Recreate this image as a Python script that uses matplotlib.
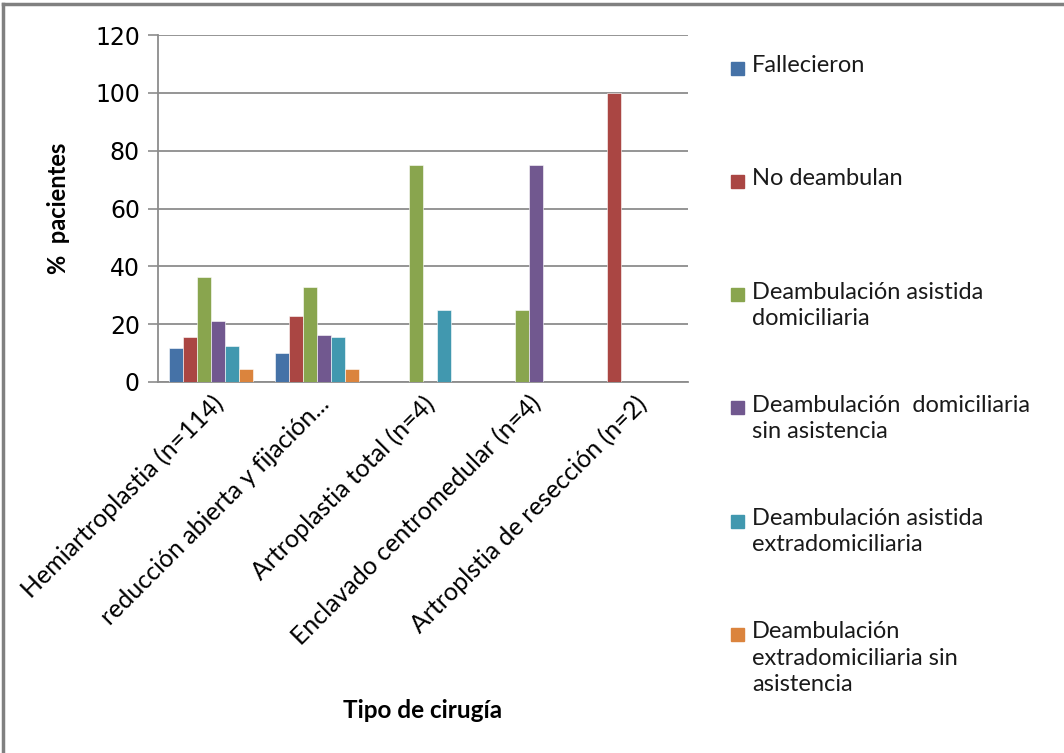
import numpy as np
import matplotlib
matplotlib.use("Agg")
import matplotlib.pyplot as plt
from matplotlib.patches import Rectangle
from matplotlib.lines import Line2D

plt.rcParams['font.family'] = ['Lato', 'DejaVu Sans']

categories = ["Hemiartroplastia (n=114)", "reducción abierta y fijación...",
              "Artroplastia total (n=4)", "Enclavado centromedular (n=4)",
              "Artroplstia de resección (n=2)"]

series_names = ["Fallecieron", "No deambulan",
                "Deambulación asistida\ndomiciliaria",
                "Deambulación  domiciliaria\nsin asistencia",
                "Deambulación asistida\nextradomiciliaria",
                "Deambulación\nextradomiciliaria sin\nasistencia"]

fallecieron = [11.7, 9.9, 0, 0, 0]
no_deambulan = [15.4, 22.9, 0, 0, 100]
asistida_dom = [36.3, 32.7, 75, 25, 0]
dom_sin_asist = [21.0, 16.2, 0, 75, 0]
asistida_extra = [12.6, 15.4, 25, 0, 0]
extra_sin_asist = [4.5, 4.5, 0, 0, 0]

values = [fallecieron, no_deambulan, asistida_dom, dom_sin_asist,
          asistida_extra, extra_sin_asist]
colors = ["#4572A7", "#AA4643", "#89A54E", "#71588F", "#4198AF", "#DB843D"]

yticks = [0, 20, 40, 60, 80, 100, 120]

fig = plt.figure(figsize=(10.64, 7.53), dpi=100)
ax = fig.add_axes([0.1485, 0.4927, 0.498, 0.4608])

x = np.arange(len(categories))
bw = 0.132
for i, (vals, col) in enumerate(zip(values, colors)):
    ax.bar(x + (i - 2.5) * bw, vals, width=bw, color=col,
           edgecolor="white", linewidth=0.4, zorder=3)

ax.set_xlim(-0.5, len(categories) - 0.5)
ax.set_ylim(0, 120)
ax.set_yticks(yticks)
ax.set_yticklabels([str(t) for t in yticks], fontsize=17,
                   family=['Liberation Sans Narrow', 'DejaVu Sans'])
ax.yaxis.grid(True, color="#8c8c8c", linewidth=1.3, zorder=0)
ax.tick_params(axis="y", length=7, width=1.2, color="#8c8c8c", pad=6)

ax.set_xticks(x)
ax.set_xticklabels(categories, rotation=45, ha="right",
                   rotation_mode="anchor", fontsize=18)
ax.tick_params(axis="x", length=0, pad=7)

for side in ["top", "right"]:
    ax.spines[side].set_visible(False)
for side in ["left", "bottom"]:
    ax.spines[side].set_color("#8c8c8c")
    ax.spines[side].set_linewidth(1.3)

ax.set_ylabel("%  pacientes", fontsize=17, fontweight="bold", labelpad=18)
fig.text(0.3975, 0.057, "Tipo de cirugía", fontsize=17.5, fontweight="bold",
         ha="center", va="center")

# legend drawn by hand so the swatch sits on the first text line
W, H = 1064, 753
first_line_y = 68
step = 113.3
for i, (name, col) in enumerate(zip(series_names, colors)):
    yc = first_line_y + i * step
    fig.patches.append(Rectangle(((731) / W, 1 - (yc + 6.5) / H), 13 / W, 13 / H,
                                 transform=fig.transFigure, color=col))
    fig.text(752 / W, 1 - (yc - 13) / H, name, fontsize=17, va="top",
             ha="left", linespacing=1.3, color="#1a1a1a")

# outer frame
fig.add_artist(Line2D([3 / W, 3 / W], [0, 1 - 4 / H], color="#808080",
                      linewidth=2.5, transform=fig.transFigure))
fig.add_artist(Line2D([3 / W, 1], [1 - 4 / H, 1 - 4 / H], color="#808080",
                      linewidth=2.5, transform=fig.transFigure))

fig.savefig("out.png", dpi=100)
